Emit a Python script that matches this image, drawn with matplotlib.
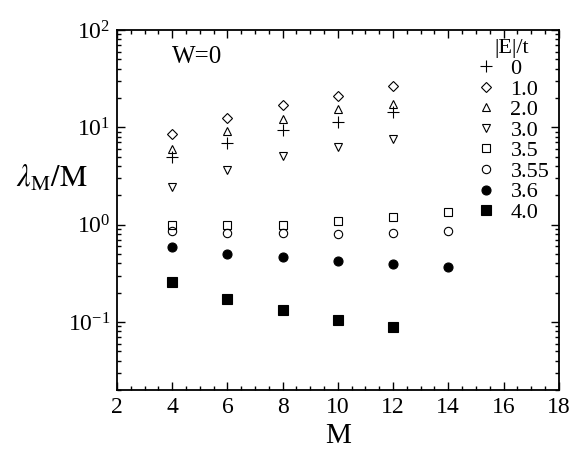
import matplotlib
matplotlib.use("Agg")
import matplotlib.pyplot as plt
from matplotlib.ticker import MultipleLocator, LogLocator

plt.rcParams['font.family'] = ['Liberation Serif', 'DejaVu Serif']
plt.rcParams['mathtext.fontset'] = 'stix'

M = [4, 6, 8, 10, 12, 14]
labels = ['0', '1.0', '2.0', '3.0', '3.5', '3.55', '3.6', '4.0']
y_E0 = [4.9, 6.9, 9.4, 11.3, 14.4]
y_E1 = [8.5, 12.5, 16.9, 21.0, 26.6]
y_E2 = [6.0, 9.2, 12.2, 15.4, 17.4]
y_E3 = [2.43, 3.64, 5.07, 6.3, 7.6]
y_E35 = [1.0, 1.0, 1.0, 1.09, 1.2, 1.35]
y_E355 = [0.86, 0.82, 0.82, 0.80, 0.82, 0.87]
y_E36 = [0.59, 0.50, 0.46, 0.42, 0.39, 0.37]
y_E4 = [0.257, 0.172, 0.132, 0.105, 0.089]
series = [y_E0, y_E1, y_E2, y_E3, y_E35, y_E355, y_E36, y_E4]

styles = [
    dict(marker='+', mfc='none', ms=8, mew=0.8),
    dict(marker='D', mfc='none', ms=5, mew=0.8),
    dict(marker='^', mfc='none', ms=6, mew=0.8),
    dict(marker='v', mfc='none', ms=6, mew=0.8),
    dict(marker='s', mfc='none', ms=6, mew=0.8),
    dict(marker='o', mfc='none', ms=6, mew=0.8),
    dict(marker='o', mfc='black', ms=6.5, mew=0.8),
    dict(marker='s', mfc='black', ms=6.5, mew=0.8),
]

fig = plt.figure(figsize=(5.82, 4.54), dpi=100)
ax = fig.add_axes([0.201, 0.141, 0.759, 0.793])

for ys, lab, st in zip(series, labels, styles):
    ax.plot(M[:len(ys)], ys, linestyle='none', color='black', mec='black', label=lab, **st)

ax.set_yscale('log')
ax.set_xlim(2, 18)
ax.set_ylim(0.02, 100)
ax.xaxis.set_major_locator(MultipleLocator(2))
ax.xaxis.set_minor_locator(MultipleLocator(0.5))
ax.yaxis.set_major_locator(LogLocator(base=10, numticks=10))
ax.yaxis.set_minor_locator(LogLocator(base=10, subs=range(2, 10), numticks=10))
ax.tick_params(which='both', direction='in', top=True, right=True, width=1.0, labelsize=17, pad=5)
ax.tick_params(which='major', length=6)
ax.tick_params(which='minor', length=3)
for sp in ax.spines.values():
    sp.set_linewidth(1.3)

ax.set_xlabel('M', fontsize=21, labelpad=4)
ax.set_ylabel(r'$\lambda_{\mathrm{M}}/\mathrm{M}$', fontsize=22, rotation=0)
ax.yaxis.set_label_coords(-0.148, 0.545)

ax.text(0.125, 0.925, 'W=0', transform=ax.transAxes, fontsize=18, va='center', ha='left')

leg = ax.legend(loc='upper right', bbox_to_anchor=(1.014, 1.017), frameon=False,
                title='|E|/t', fontsize=16, title_fontsize=16, labelspacing=0.0,
                handlelength=1.0, handletextpad=0.6, borderaxespad=0.3,
                alignment='center', markerscale=1.0)

fig.savefig('out.png', dpi=100)
